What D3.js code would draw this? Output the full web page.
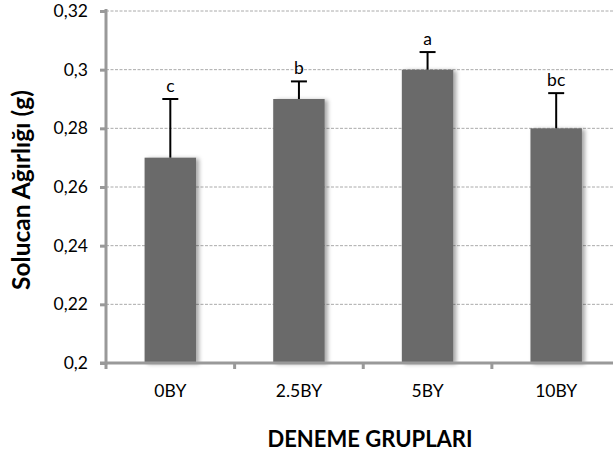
<!DOCTYPE html>
<html>
<head>
<meta charset="utf-8">
<script src="https://cdn.jsdelivr.net/npm/d3@7/dist/d3.min.js"></script>
<style>
  html, body { margin: 0; padding: 0; background: #fff; }
  svg { display: block; font-family: Lato, "Open Sans", sans-serif; }
</style>
</head>
<body>
<svg id="chart" width="613" height="460"></svg>
<script>
// Worm weight by treatment group
const groups = ["0BY", "2.5BY", "5BY", "10BY"];
const means = [0.27, 0.29, 0.30, 0.28];
const errors = [0.02, 0.006, 0.006, 0.012];
const letters = ["c", "b", "a", "bc"];
const yTicks = [0.2, 0.22, 0.24, 0.26, 0.28, 0.3, 0.32];

const svg = d3.select("#chart");
const plotLeft = 106, plotRight = 620.5, plotTop = 11, plotBottom = 363;

const x = d3.scaleBand().domain(groups).range([plotLeft, plotRight]).paddingInner(0.6).paddingOuter(0.3);
const y = d3.scaleLinear().domain([0.2, 0.32]).range([plotBottom, plotTop]);
const fmt = d => d3.format(".2~f")(d).replace(".", ",");

const defs = svg.append("defs");
const shadow = defs.append("filter").attr("id", "barShadow")
  .attr("x", "-10%").attr("y", "-10%").attr("width", "140%").attr("height", "120%");
shadow.append("feDropShadow").attr("dx", 3).attr("dy", 1).attr("stdDeviation", 2)
  .attr("flood-color", "#000").attr("flood-opacity", 0.35);

// Horizontal dashed grid
svg.append("g").selectAll("line").data(yTicks.filter(t => t > 0.2)).join("line")
  .attr("x1", plotLeft).attr("x2", 613)
  .attr("y1", d => y(d)).attr("y2", d => y(d))
  .attr("stroke", "#aaaaaa").attr("stroke-width", 1).attr("stroke-dasharray", "3,1.5");

// Bars
svg.append("g").selectAll("rect").data(groups).join("rect")
  .attr("x", d => x(d)).attr("width", x.bandwidth())
  .attr("y", (d, i) => y(means[i])).attr("height", (d, i) => y(0.2) - y(means[i]))
  .attr("fill", "#6b6b6b").attr("filter", "url(#barShadow)");

// Upper error bars
const eb = svg.append("g").attr("stroke", "#000").attr("stroke-width", 2);
groups.forEach((g, i) => {
  const cx = x(g) + x.bandwidth() / 2;
  eb.append("line").attr("x1", cx).attr("x2", cx)
    .attr("y1", y(means[i])).attr("y2", y(means[i] + errors[i]));
  eb.append("line").attr("x1", cx - 8).attr("x2", cx + 8)
    .attr("y1", y(means[i] + errors[i])).attr("y2", y(means[i] + errors[i]));
});

// Significance letters
svg.append("g").selectAll("text").data(groups).join("text")
  .attr("x", d => x(d) + x.bandwidth() / 2)
  .attr("y", (d, i) => y(means[i] + errors[i]) - 7.5)
  .attr("text-anchor", "middle").attr("font-size", 17.5).attr("fill", "#000")
  .text((d, i) => letters[i]);

// Y axis
const yAxis = svg.append("g").attr("transform", `translate(${plotLeft},0)`)
  .call(d3.axisLeft(y).tickValues(yTicks).tickFormat(fmt).tickSize(6).tickPadding(12));
yAxis.select(".domain").attr("stroke", "#999").attr("stroke-width", 3)
  .attr("d", `M0,${plotTop - 2}V${plotBottom + 1.5}`);
yAxis.selectAll(".tick line").attr("stroke", "#999").attr("stroke-width", 3);
yAxis.selectAll(".tick text").attr("font-size", 17.5).attr("fill", "#000").attr("font-family", "Lato, sans-serif");

// X axis
const xAxis = svg.append("g").attr("transform", `translate(0,${plotBottom})`)
  .call(d3.axisBottom(x).tickSize(0).tickPadding(22));
xAxis.select(".domain").attr("stroke", "#999").attr("stroke-width", 3)
  .attr("d", `M${plotLeft - 6},0H${plotRight}`);
xAxis.selectAll(".tick text").attr("font-size", 17.5).attr("fill", "#000").attr("font-family", "Lato, sans-serif");

// Group separator ticks
svg.append("g").selectAll("line").data(d3.range(0, groups.length + 1)).join("line")
  .attr("x1", i => plotLeft + i * (plotRight - plotLeft) / groups.length)
  .attr("x2", i => plotLeft + i * (plotRight - plotLeft) / groups.length)
  .attr("y1", plotBottom).attr("y2", plotBottom + 6)
  .attr("stroke", "#999").attr("stroke-width", 3);

// Axis titles
svg.append("text").attr("transform", "translate(30,190) rotate(-90)")
  .attr("text-anchor", "middle").attr("font-size", 24.5).attr("font-weight", "bold")
  .text("Solucan Ağırlığı (g)");
svg.append("text").attr("x", 370).attr("y", 447)
  .attr("text-anchor", "middle").attr("font-size", 22).attr("font-weight", "bold")
  .text("DENEME GRUPLARI");
</script>
</body>
</html>
